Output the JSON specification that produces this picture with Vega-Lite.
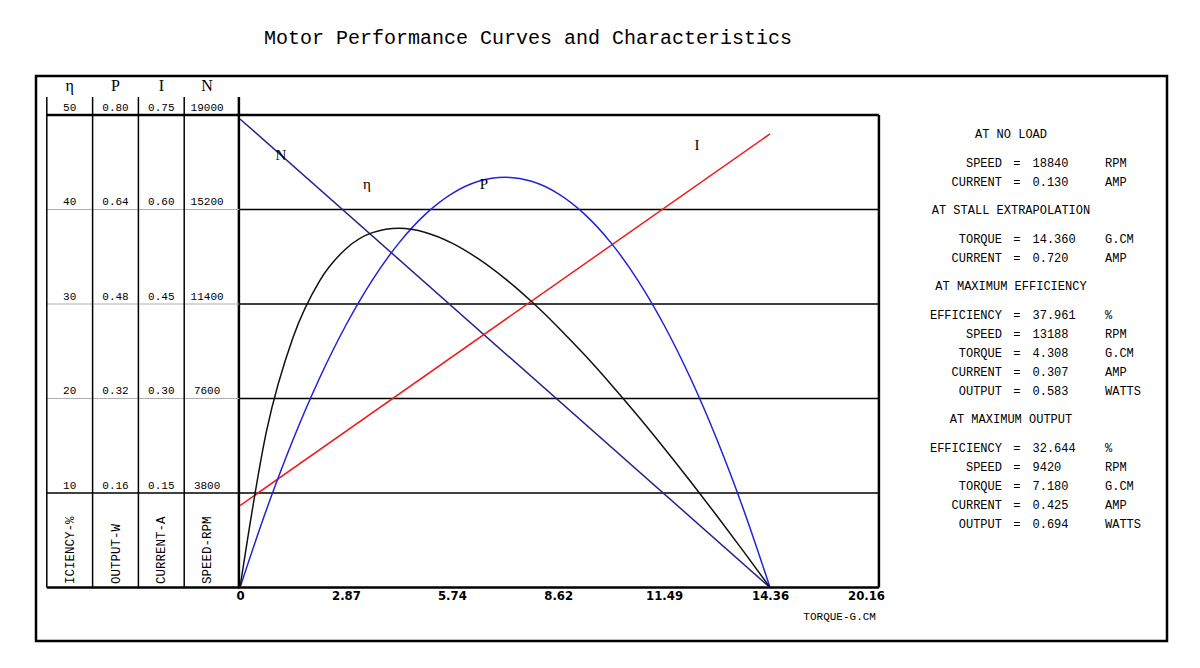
{
  "$schema": "https://vega.github.io/schema/vega-lite/v6.json",
  "width": 1131,
  "height": 565,
  "autosize": {"type": "none"},
  "padding": {"left": 36, "top": 76, "right": 33, "bottom": 27},
  "background": "white",
  "title": {"text": "Motor Performance Curves and Characteristics", "font": "Liberation Mono", "fontSize": 20, "fontWeight": "normal", "color": "black", "anchor": "middle", "frame": "group", "dx": -73.5, "offset": 12, "baseline": "alphabetic"},
  "config": {"view": {"stroke": "black", "strokeWidth": 2.5}},
  "resolve": {"scale": {"x": "independent", "y": "independent"}},
  "layer": [
    {
      "layer": [
        {
          "data": {"values": [{"v": 10}, {"v": 20}, {"v": 30}, {"v": 40}]},
          "mark": {"type": "rule", "color": "black", "strokeWidth": 1.3},
          "encoding": {
            "x": {"datum": 0, "type": "quantitative", "scale": {"domain": [-5.527, 25.115], "nice": false, "zero": false},
              "axis": {"values": [0, 2.87, 5.74, 8.62, 11.49, 14.36, 16.96], "labelExpr": "datum.value == 0 ? '0' : (datum.value > 16 ? '20.16' : format(datum.value, '.2f'))", "offset": -53.5, "domain": false, "ticks": false, "grid": false, "title": null, "labelFont": "'DejaVu Sans Condensed', 'Liberation Sans Narrow', 'Liberation Sans', sans-serif", "labelFontWeight": "bold", "labelFontSize": 13, "labelColor": "black", "labelPadding": 2, "labelFlush": false, "labelOverlap": false}},
            "x2": {"datum": 17.31},
            "y": {"field": "v", "type": "quantitative", "scale": {"domain": [-5.661, 54.127], "nice": false, "zero": false}, "axis": null}
          }
        },
        {
          "data": {"values": [{"v": 0}, {"v": 50}]},
          "mark": {"type": "rule", "color": "black", "strokeWidth": 2.5},
          "encoding": {
            "x": {"datum": -0.05, "type": "quantitative"},
            "x2": {"datum": 17.31},
            "y": {"field": "v", "type": "quantitative"}
          }
        },
        {
          "data": {"values": [{}]},
          "mark": {"type": "rule", "color": "black", "strokeWidth": 2.5},
          "encoding": {
            "x": {"datum": 17.31, "type": "quantitative"},
            "y": {"datum": 0, "type": "quantitative"},
            "y2": {"datum": 50}
          }
        },
        {
          "data": {"values": [{}]},
          "mark": {"type": "rule", "color": "black", "strokeWidth": 2.5},
          "encoding": {
            "x": {"datum": -0.03, "type": "quantitative"},
            "y": {"datum": 0, "type": "quantitative"},
            "y2": {"datum": 51.9}
          }
        },
        {
          "data": {"values": [
            {"s": "N", "t": 0, "v": 49.58}, {"s": "N", "t": 14.36, "v": 0},
            {"s": "I", "t": 0, "v": 8.67}, {"s": "I", "t": 14.36, "v": 48.0},
            {"s": "P", "t": 0, "v": 0}, {"s": "P", "t": 0.718, "v": 8.25}, {"s": "P", "t": 1.436, "v": 15.63}, {"s": "P", "t": 2.154, "v": 22.14}, {"s": "P", "t": 2.872, "v": 27.78}, {"s": "P", "t": 3.59, "v": 32.56}, {"s": "P", "t": 4.308, "v": 36.47}, {"s": "P", "t": 5.026, "v": 39.51}, {"s": "P", "t": 5.744, "v": 41.68}, {"s": "P", "t": 6.462, "v": 42.98}, {"s": "P", "t": 7.18, "v": 43.41}, {"s": "P", "t": 7.898, "v": 42.98}, {"s": "P", "t": 8.616, "v": 41.68}, {"s": "P", "t": 9.334, "v": 39.51}, {"s": "P", "t": 10.052, "v": 36.47}, {"s": "P", "t": 10.77, "v": 32.56}, {"s": "P", "t": 11.488, "v": 27.78}, {"s": "P", "t": 12.206, "v": 22.14}, {"s": "P", "t": 12.924, "v": 15.63}, {"s": "P", "t": 13.642, "v": 8.25}, {"s": "P", "t": 14.36, "v": 0},
            {"s": "η", "t": 0, "v": 0}, {"s": "η", "t": 0.718, "v": 16.55}, {"s": "η", "t": 1.436, "v": 26.46}, {"s": "η", "t": 2.154, "v": 32.43}, {"s": "η", "t": 2.872, "v": 35.85}, {"s": "η", "t": 3.59, "v": 37.55}, {"s": "η", "t": 4.308, "v": 38.01}, {"s": "η", "t": 5.026, "v": 37.57}, {"s": "η", "t": 5.744, "v": 36.44}, {"s": "η", "t": 6.462, "v": 34.77}, {"s": "η", "t": 7.18, "v": 32.69}, {"s": "η", "t": 7.898, "v": 30.26}, {"s": "η", "t": 8.616, "v": 27.55}, {"s": "η", "t": 9.334, "v": 24.62}, {"s": "η", "t": 10.052, "v": 21.49}, {"s": "η", "t": 10.77, "v": 18.2}, {"s": "η", "t": 11.488, "v": 14.77}, {"s": "η", "t": 12.206, "v": 11.22}, {"s": "η", "t": 12.924, "v": 7.57}, {"s": "η", "t": 13.642, "v": 3.82}, {"s": "η", "t": 14.36, "v": 0}
          ]},
          "mark": {"type": "line", "strokeWidth": 1.5, "interpolate": "monotone"},
          "encoding": {
            "x": {"field": "t", "type": "quantitative"},
            "y": {"field": "v", "type": "quantitative"},
            "color": {"field": "s", "type": "nominal", "scale": {"domain": ["η", "P", "I", "N"], "range": ["#111111", "#2222dd", "#ee1c1c", "#23238c"]}, "legend": null}
          }
        },
        {
          "data": {"values": [
            {"lab": "N", "t": 1.11, "v": 45.8},
            {"lab": "η", "t": 3.44, "v": 42.7},
            {"lab": "P", "t": 6.61, "v": 42.7},
            {"lab": "I", "t": 12.38, "v": 46.8}
          ]},
          "mark": {"type": "text", "font": "Liberation Serif", "fontSize": 15, "color": "black", "baseline": "middle", "align": "center"},
          "encoding": {
            "x": {"field": "t", "type": "quantitative"},
            "y": {"field": "v", "type": "quantitative"},
            "text": {"field": "lab"}
          }
        },
        {
          "data": {"values": [{"lab": "TORQUE-G.CM"}]},
          "mark": {"type": "text", "font": "Liberation Mono", "fontSize": 11, "color": "black", "baseline": "middle", "align": "right"},
          "encoding": {
            "x": {"datum": 17.23, "type": "quantitative"},
            "y": {"datum": -3.1, "type": "quantitative"},
            "text": {"field": "lab"}
          }
        }
      ]
    },
    {
      "layer": [
        {
          "data": {"values": [{"v": 20}, {"v": 30}, {"v": 40}]},
          "mark": {"type": "rule", "color": "#b0b0b0", "strokeWidth": 1.2},
          "encoding": {
            "x": {"datum": -0.5, "type": "quantitative", "scale": {"domain": [-0.7358, 23.958], "nice": false, "zero": false}, "axis": null},
            "x2": {"datum": 3.7},
            "y": {"field": "v", "type": "quantitative", "scale": {"domain": [-5.661, 54.127], "nice": false, "zero": false}, "axis": null}
          }
        },
        {
          "data": {"values": [{"v": 10}]},
          "mark": {"type": "rule", "color": "black", "strokeWidth": 1.3},
          "encoding": {
            "x": {"datum": -0.5, "type": "quantitative"},
            "x2": {"datum": 3.7},
            "y": {"field": "v", "type": "quantitative"}
          }
        },
        {
          "data": {"values": [{"v": 0}, {"v": 50}]},
          "mark": {"type": "rule", "color": "black", "strokeWidth": 2.5},
          "encoding": {
            "x": {"datum": -0.5, "type": "quantitative"},
            "x2": {"datum": 3.7},
            "y": {"field": "v", "type": "quantitative"}
          }
        },
        {
          "data": {"name": "cols", "values": [
            {"c": 0, "sym": "η", "unit": "ICIENCY-%"},
            {"c": 1, "sym": "P", "unit": "OUTPUT-W"},
            {"c": 2, "sym": "I", "unit": "CURRENT-A"},
            {"c": 3, "sym": "N", "unit": "SPEED-RPM"}
          ]},
          "layer": [
            {
              "mark": {"type": "rule", "color": "black", "strokeWidth": 1.5, "xOffset": -22.9},
              "encoding": {
                "x": {"field": "c", "type": "quantitative"},
                "y": {"datum": 0, "type": "quantitative"},
                "y2": {"datum": 51.9}
              }
            },
            {
              "mark": {"type": "text", "font": "Liberation Serif", "fontSize": 16, "color": "black", "baseline": "middle", "align": "center"},
              "encoding": {
                "x": {"field": "c", "type": "quantitative"},
                "y": {"datum": 53.07, "type": "quantitative"},
                "text": {"field": "sym"}
              }
            },
            {
              "mark": {"type": "text", "font": "Liberation Mono", "fontSize": 12.5, "color": "black", "baseline": "middle", "align": "left", "angle": 270},
              "encoding": {
                "x": {"field": "c", "type": "quantitative"},
                "y": {"datum": 0.37, "type": "quantitative"},
                "text": {"field": "unit"}
              }
            }
          ]
        },
        {
          "data": {"values": [
            {"c": 0, "lv": 50, "txt": "50"}, {"c": 0, "lv": 40, "txt": "40"}, {"c": 0, "lv": 30, "txt": "30"}, {"c": 0, "lv": 20, "txt": "20"}, {"c": 0, "lv": 10, "txt": "10"},
            {"c": 1, "lv": 50, "txt": "0.80"}, {"c": 1, "lv": 40, "txt": "0.64"}, {"c": 1, "lv": 30, "txt": "0.48"}, {"c": 1, "lv": 20, "txt": "0.32"}, {"c": 1, "lv": 10, "txt": "0.16"},
            {"c": 2, "lv": 50, "txt": "0.75"}, {"c": 2, "lv": 40, "txt": "0.60"}, {"c": 2, "lv": 30, "txt": "0.45"}, {"c": 2, "lv": 20, "txt": "0.30"}, {"c": 2, "lv": 10, "txt": "0.15"},
            {"c": 3, "lv": 50, "txt": "19000"}, {"c": 3, "lv": 40, "txt": "15200"}, {"c": 3, "lv": 30, "txt": "11400"}, {"c": 3, "lv": 20, "txt": "7600"}, {"c": 3, "lv": 10, "txt": "3800"}
          ]},
          "mark": {"type": "text", "font": "Liberation Mono", "fontSize": 11, "color": "black", "baseline": "middle", "align": "center", "dy": -7.5},
          "encoding": {
            "x": {"field": "c", "type": "quantitative"},
            "y": {"field": "lv", "type": "quantitative"},
            "text": {"field": "txt"}
          }
        }
      ]
    },
    {
      "data": {"values": [
        {"line": 0, "head": "AT NO LOAD"},
        {"line": 1.5, "lab": "SPEED", "val": "18840", "unit": "RPM"},
        {"line": 2.5, "lab": "CURRENT", "val": "0.130", "unit": "AMP"},
        {"line": 4, "head": "AT STALL EXTRAPOLATION"},
        {"line": 5.5, "lab": "TORQUE", "val": "14.360", "unit": "G.CM"},
        {"line": 6.5, "lab": "CURRENT", "val": "0.720", "unit": "AMP"},
        {"line": 8, "head": "AT MAXIMUM EFFICIENCY"},
        {"line": 9.5, "lab": "EFFICIENCY", "val": "37.961", "unit": "%"},
        {"line": 10.5, "lab": "SPEED", "val": "13188", "unit": "RPM"},
        {"line": 11.5, "lab": "TORQUE", "val": "4.308", "unit": "G.CM"},
        {"line": 12.5, "lab": "CURRENT", "val": "0.307", "unit": "AMP"},
        {"line": 13.5, "lab": "OUTPUT", "val": "0.583", "unit": "WATTS"},
        {"line": 15, "head": "AT MAXIMUM OUTPUT"},
        {"line": 16.5, "lab": "EFFICIENCY", "val": "32.644", "unit": "%"},
        {"line": 17.5, "lab": "SPEED", "val": "9420", "unit": "RPM"},
        {"line": 18.5, "lab": "TORQUE", "val": "7.180", "unit": "G.CM"},
        {"line": 19.5, "lab": "CURRENT", "val": "0.425", "unit": "AMP"},
        {"line": 20.5, "lab": "OUTPUT", "val": "0.694", "unit": "WATTS"}
      ]},
      "layer": [
        {
          "transform": [{"filter": "isValid(datum.head)"}],
          "mark": {"type": "text", "font": "Liberation Mono", "fontSize": 12, "color": "black", "baseline": "middle", "align": "center"},
          "encoding": {
            "x": {"datum": 8.19, "type": "quantitative", "scale": {"domain": [-127.22, 29.86], "nice": false, "zero": false}, "axis": null},
            "y": {"field": "line", "type": "quantitative", "scale": {"domain": [-3.0526, 26.684], "nice": false, "zero": false, "reverse": true}, "axis": null},
            "text": {"field": "head"}
          }
        },
        {
          "transform": [{"filter": "isValid(datum.lab)"}],
          "layer": [
            {
              "mark": {"type": "text", "font": "Liberation Mono", "fontSize": 12, "color": "black", "baseline": "middle", "align": "right"},
              "encoding": {
                "x": {"datum": 6.94, "type": "quantitative"},
                "y": {"field": "line", "type": "quantitative"},
                "text": {"field": "lab"}
              }
            },
            {
              "mark": {"type": "text", "font": "Liberation Mono", "fontSize": 12, "color": "black", "baseline": "middle", "align": "center"},
              "encoding": {
                "x": {"datum": 8.99, "type": "quantitative"},
                "y": {"field": "line", "type": "quantitative"},
                "text": {"value": "="}
              }
            },
            {
              "mark": {"type": "text", "font": "Liberation Mono", "fontSize": 12, "color": "black", "baseline": "middle", "align": "left"},
              "encoding": {
                "x": {"datum": 11.18, "type": "quantitative"},
                "y": {"field": "line", "type": "quantitative"},
                "text": {"field": "val"}
              }
            },
            {
              "mark": {"type": "text", "font": "Liberation Mono", "fontSize": 12, "color": "black", "baseline": "middle", "align": "left"},
              "encoding": {
                "x": {"datum": 21.25, "type": "quantitative"},
                "y": {"field": "line", "type": "quantitative"},
                "text": {"field": "unit"}
              }
            }
          ]
        }
      ]
    }
  ]
}
